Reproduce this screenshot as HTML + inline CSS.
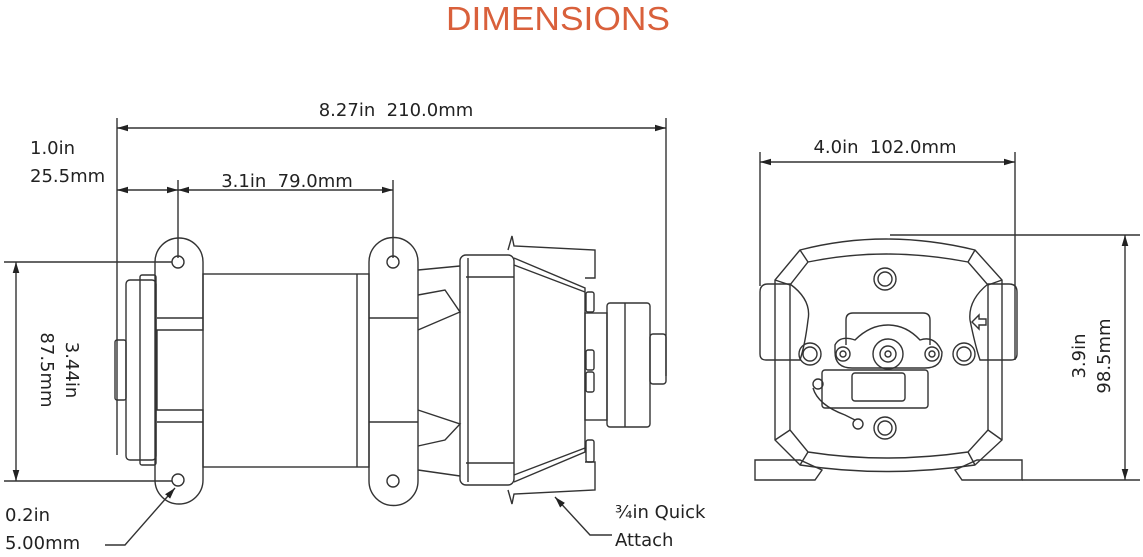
<!DOCTYPE html>
<html><head><meta charset="utf-8"><style>
html,body{margin:0;padding:0;background:#fff;}
svg{display:block;}
text{font-family:"DejaVu Sans","Liberation Sans",sans-serif;fill:#222;white-space:pre;}
</style></head><body>
<svg width="1143" height="557" viewBox="0 0 1143 557" xmlns="http://www.w3.org/2000/svg" xml:space="preserve">
<defs>
<marker id="a" viewBox="0 0 10 10" refX="10" refY="5" markerWidth="8" markerHeight="8" orient="auto-start-reverse"><path d="M0,2 L10,5 L0,8 z" fill="#222"/></marker>
</defs>
<text x="558" y="30" text-anchor="middle" font-size="33" style="fill:#d9603b;font-family:'Liberation Sans',sans-serif" textLength="224" lengthAdjust="spacingAndGlyphs">DIMENSIONS</text>

<g stroke="#333" stroke-width="1.4" fill="none">
<line x1="117" y1="118" x2="117" y2="455"/>
<line x1="666" y1="118" x2="666" y2="376"/>
<line x1="117" y1="128" x2="666" y2="128" marker-start="url(#a)" marker-end="url(#a)"/>
<line x1="178" y1="180" x2="178" y2="258"/>
<line x1="393" y1="180" x2="393" y2="258"/>
<line x1="117" y1="190" x2="178" y2="190" marker-start="url(#a)" marker-end="url(#a)"/>
<line x1="178" y1="190" x2="393" y2="190" marker-start="url(#a)" marker-end="url(#a)"/>
<line x1="4" y1="262" x2="172" y2="262"/>
<line x1="4" y1="481" x2="172" y2="481"/>
<line x1="16" y1="262" x2="16" y2="481" marker-start="url(#a)" marker-end="url(#a)"/>

<rect x="115" y="340" width="11" height="60" rx="2"/>
<rect x="126" y="280" width="30" height="180" rx="4"/>
<rect x="140" y="275" width="16" height="190" rx="2"/>
<path d="M155,262 A24,24 0 0 1 203,262 L203,330 L157,330 L157,410 L203,410 L203,480 A24,24 0 0 1 155,480 Z"/>
<circle cx="178" cy="262" r="6"/><circle cx="178" cy="480" r="6"/>
<line x1="157" y1="318" x2="203" y2="318"/><line x1="157" y1="422" x2="203" y2="422"/>
<rect x="203" y="274" width="166" height="193"/>
<line x1="357" y1="274" x2="357" y2="467"/>
<path d="M369,262 A24.5,24.5 0 0 1 418,262 L418,330 L418,410 L418,481 A24.5,24.5 0 0 1 369,481 Z"/>
<circle cx="393" cy="262" r="6"/><circle cx="393" cy="481" r="6"/>
<line x1="369" y1="318" x2="418" y2="318"/><line x1="369" y1="422" x2="418" y2="422"/>
<path d="M418,270 L460,266 M418,295 L445,290 L460,312 L418,330 M418,410 L460,424 L445,440 L418,446 M418,470 L460,476"/>
<rect x="460" y="255" width="54" height="230" rx="6"/>
<line x1="468" y1="258" x2="468" y2="482"/>
<line x1="466" y1="277" x2="514" y2="277"/><line x1="466" y1="463" x2="514" y2="463"/>
<path d="M514,258 L585,288 L585,452 L514,482"/>
<path d="M514,265 L585,292 M514,475 L585,448"/>
<path d="M508,250 L512,236 L514,246 L595,250 L595,278 L585,278"/>
<path d="M508,490 L512,504 L514,494 L595,490 L595,462 L585,462"/>
<rect x="586" y="292" width="8" height="20" rx="2"/>
<rect x="586" y="350" width="8" height="20" rx="2"/>
<rect x="586" y="372" width="8" height="20" rx="2"/>
<rect x="586" y="440" width="8" height="22" rx="2"/>
<rect x="585" y="313" width="22" height="107"/>
<rect x="607" y="303" width="43" height="124" rx="3"/>
<line x1="625" y1="303" x2="625" y2="427"/>
<rect x="650" y="334" width="16" height="50" rx="3"/>
<path d="M105,545 L125,545 L175,488" marker-end="url(#a)"/>
<path d="M612,535 L590,535 L555,497" marker-end="url(#a)"/>

<line x1="760" y1="152" x2="760" y2="286"/>
<line x1="1015" y1="152" x2="1015" y2="360"/>
<line x1="760" y1="162" x2="1015" y2="162" marker-start="url(#a)" marker-end="url(#a)"/>
<line x1="890" y1="235" x2="1140" y2="235"/>
<line x1="1022" y1="480" x2="1140" y2="480"/>
<line x1="1125" y1="235" x2="1125" y2="480" marker-start="url(#a)" marker-end="url(#a)"/>

<path d="M800,250 Q885,228 975,250 L1002,280 L1002,440 L975,465 Q885,478 800,465 L775,440 L775,280 Z"/>
<path d="M808,262 Q885,246 968,262 L988,285 L988,430 L968,452 Q885,464 808,452 L790,430 L790,285 Z"/>
<path d="M800,250 L808,262 M975,250 L968,262 M775,280 L790,285 M1002,280 L988,285 M775,440 L790,430 M1002,440 L988,430 M800,465 L808,452 M975,465 L968,452"/>
<path d="M760,292 Q760,284 768,284 L790,284 Q812,300 808,320 Q805,345 800,360 L766,360 Q760,360 760,354 Z"/>
<path d="M1017,292 Q1017,284 1009,284 L988,284 Q968,300 970,320 Q975,345 980,360 L1011,360 Q1017,360 1017,354 Z"/>
<path d="M755,460 L800,460 L822,470 L815,480 L755,480 Z"/>
<path d="M1022,460 L977,460 L955,470 L962,480 L1022,480 Z"/>
<circle cx="885" cy="279" r="11"/><circle cx="885" cy="279" r="7"/>
<circle cx="885" cy="428" r="11"/><circle cx="885" cy="428" r="7"/>
<circle cx="810" cy="354" r="11"/><circle cx="810" cy="354" r="7"/>
<circle cx="964" cy="354" r="11"/><circle cx="964" cy="354" r="7"/>
<path d="M846,345 L846,320 Q846,313 853,313 L923,313 Q930,313 930,320 L930,345"/>
<path d="M835,345 Q840,335 855,340 Q870,325 888,325 Q906,325 920,340 Q935,335 942,352 Q942,368 925,368 L852,368 Q835,368 835,352 Z"/>
<circle cx="843" cy="354" r="7"/><circle cx="843" cy="354" r="3"/>
<circle cx="932" cy="354" r="7"/><circle cx="932" cy="354" r="3"/>
<circle cx="888" cy="354" r="15"/><circle cx="888" cy="354" r="8"/><circle cx="888" cy="354" r="3"/>
<rect x="822" y="370" width="106" height="38" rx="3"/>
<rect x="852" y="373" width="53" height="28" rx="3"/>
<circle cx="818" cy="384" r="5"/><circle cx="858" cy="424" r="5"/>
<path d="M813,388 Q818,405 845,415 L855,420"/>
<path d="M972,322 L979,315 L979,319 L986,319 L986,325 L979,325 L979,329 Z"/>
</g>

<g font-size="18">
<text x="396" y="116" text-anchor="middle">8.27in  210.0mm</text>
<text x="30" y="154">1.0in</text>
<text x="30" y="182">25.5mm</text>
<text x="287" y="187" text-anchor="middle">3.1in  79.0mm</text>
<text x="5" y="521">0.2in</text>
<text x="5" y="549">5.00mm</text>
<text x="615" y="518">¾in Quick</text>
<text x="615" y="546">Attach</text>
<text x="885" y="153" text-anchor="middle">4.0in  102.0mm</text>
<text transform="translate(66,370) rotate(90)" text-anchor="middle">3.44in</text>
<text transform="translate(41,370) rotate(90)" text-anchor="middle">87.5mm</text>
<text transform="translate(1085,356) rotate(-90)" text-anchor="middle">3.9in</text>
<text transform="translate(1110,356) rotate(-90)" text-anchor="middle">98.5mm</text>
</g>
</svg>
</body></html>
